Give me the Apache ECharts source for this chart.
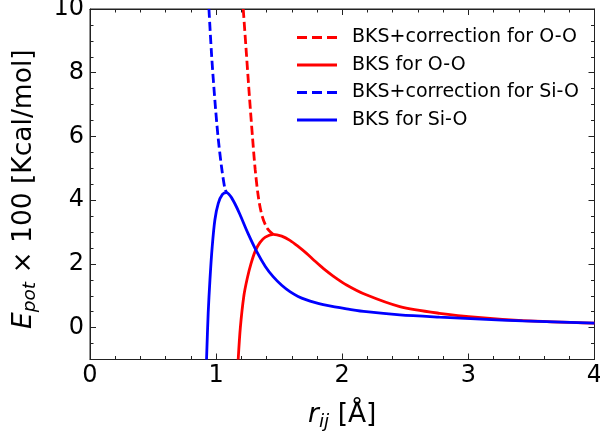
<!DOCTYPE html>
<html><head><meta charset="utf-8">
<script src="https://cdn.jsdelivr.net/npm/echarts@6/dist/echarts.min.js"></script>
<style>html,body{margin:0;padding:0;background:#fff;overflow:hidden}#c{width:600px;height:435px}</style>
</head><body><div id="c"></div>
<script>
const seriesNames = ['BKS+correction for O-O', 'BKS for O-O', 'BKS+correction for Si-O', 'BKS for Si-O'];
const seriesColors = ['#ff0000', '#ff0000', '#0000ff', '#0000ff'];
const rOOcorr = [1.215, 1.24, 1.265, 1.29, 1.31, 1.335, 1.365, 1.405, 1.452];
const eOOcorr = [10, 8.6, 7.2, 5.9, 4.95, 4.1, 3.5, 3.12, 2.93];
const rOO = [1.175, 1.192, 1.22, 1.247, 1.276, 1.31, 1.347, 1.39, 1.452, 1.52, 1.585, 1.65, 1.717, 1.78, 1.849, 1.928, 2.034, 2.19, 2.456, 2.77, 3.1, 3.43, 4.0];
const eOO = [-1, 0, 1, 1.55, 2.0, 2.4, 2.67, 2.84, 2.93, 2.87, 2.74, 2.55, 2.33, 2.1, 1.86, 1.62, 1.34, 1.03, 0.66, 0.45, 0.31, 0.22, 0.14];
const rSiOcorr = [0.943, 0.965, 0.99, 1.015, 1.043, 1.07, 1.083];
const eSiOcorr = [10, 8.5, 7.14, 6.0, 5.04, 4.35, 4.24];
const rSiO = [0.924, 0.937, 0.951, 0.969, 0.99, 1.017, 1.05, 1.083, 1.115, 1.15, 1.189, 1.25, 1.32, 1.39, 1.452, 1.52, 1.585, 1.65, 1.717, 1.78, 1.849, 1.94, 2.034, 2.19, 2.456, 2.77, 3.1, 3.43, 4.0];
const eSiO = [-1, 0.45, 1.5, 2.54, 3.38, 3.9, 4.18, 4.24, 4.12, 3.88, 3.55, 2.98, 2.4, 1.92, 1.6, 1.33, 1.13, 0.98, 0.87, 0.79, 0.72, 0.65, 0.59, 0.50, 0.40, 0.33, 0.27, 0.21, 0.14];
const yMajorTicks = [0, 2, 4, 6, 8, 10];

const zip = (xs, ys) => xs.map((x, i) => [x, ys[i]]);
const dataSets = [zip(rOOcorr, eOOcorr), zip(rOO, eOO), zip(rSiOcorr, eSiOcorr), zip(rSiO, eSiO)];
const dashed = [true, false, true, false];
const ICON_DASH = 'path://M0,0h10v3h-10zM15,0h10v3h-10zM30,0h10v3h-10z';
const ICON_SOLID = 'path://M0,0h40v3h-40z';

const FONT = 'DejaVu Sans';
const frameColor = '#222';
const axisLineStyle = { color: frameColor, width: 1 };
const chart = echarts.init(document.getElementById('c'), null, { renderer: 'canvas' });

const yBase = { type: 'value', min: -1, max: 10, splitLine: { show: false }, gridIndex: 0 };
const richName = {
  i: { fontFamily: FONT, fontSize: 26.5, fontStyle: 'italic', color: '#000' },
  s: { fontFamily: FONT, fontSize: 18.5, fontStyle: 'italic', color: '#000', padding: [13, 0, 0, 0] },
  n: { fontFamily: FONT, fontSize: 26.5, color: '#000' }
};
const option = {
  animation: false,
  backgroundColor: '#fff',
  grid: [
    { show: true, left: 90, right: 5.5, top: 9, bottom: 75.5, containLabel: false, outerBoundsMode: 'none',
      borderColor: frameColor, borderWidth: 1, backgroundColor: 'transparent' },
    { show: false, left: 90, right: 5.5, top: 8, height: 1, containLabel: false, outerBoundsMode: 'none' }
  ],
  legend: {
    orient: 'vertical', left: 292, top: 23, itemWidth: 40, itemHeight: 3, itemGap: 8.5,
    textStyle: { fontFamily: FONT, fontSize: 19, color: '#000', padding: [0, 0, 0, 10] },
    data: seriesNames.map((n, i) => ({ name: n, icon: dashed[i] ? ICON_DASH : ICON_SOLID, itemStyle: { color: seriesColors[i] } }))
  },
  xAxis: [
    {
      gridIndex: 0, type: 'value', position: 'bottom', min: 0, max: 4, interval: 1,
      axisLine: { show: true, onZero: false, lineStyle: axisLineStyle },
      axisTick: { show: true, inside: true, length: 6, lineStyle: axisLineStyle },
      minorTick: { show: true, splitNumber: 5, length: 3.5, lineStyle: axisLineStyle },
      axisLabel: { fontFamily: FONT, fontSize: 24, color: '#000', margin: 4 },
      splitLine: { show: false },
      name: '{i|r}{s|ij}{n| [Å]}', nameLocation: 'middle', nameGap: 40,
      nameTextStyle: { fontFamily: FONT, color: '#000', rich: richName }
    },
    {
      gridIndex: 1, type: 'value', position: 'bottom', min: 0, max: 4, interval: 1,
      axisLine: { show: true, onZero: false, lineStyle: axisLineStyle },
      axisTick: { show: true, inside: false, length: 6, lineStyle: axisLineStyle },
      minorTick: { show: true, splitNumber: 5, length: 3.5, lineStyle: axisLineStyle },
      axisLabel: { show: false }, splitLine: { show: false }
    }
  ],
  yAxis: [
    Object.assign({}, yBase, {
      position: 'left',
      axisLine: { show: true, onZero: false, lineStyle: axisLineStyle },
      axisTick: { show: true, inside: true, length: 6, lineStyle: axisLineStyle, customValues: yMajorTicks },
      axisLabel: { fontFamily: FONT, fontSize: 24, color: '#000', margin: 6, customValues: yMajorTicks },
      name: '{i|E}{s|pot}{n| × 100 [Kcal/mol]}', nameLocation: 'middle', nameGap: 50,
      nameTextStyle: { fontFamily: FONT, color: '#000', padding: [0, 10, 0, 0], rich: richName }
    }),
    Object.assign({}, yBase, {
      position: 'left', interval: 0.5,
      axisLine: { show: false, onZero: false },
      axisTick: { show: true, inside: true, length: 3.5, lineStyle: axisLineStyle },
      axisLabel: { show: false }
    }),
    Object.assign({}, yBase, {
      position: 'right',
      axisLine: { show: true, onZero: false, lineStyle: axisLineStyle },
      axisTick: { show: true, inside: true, length: 6, lineStyle: axisLineStyle, customValues: yMajorTicks },
      axisLabel: { show: false, customValues: yMajorTicks }
    }),
    Object.assign({}, yBase, {
      position: 'right', interval: 0.5,
      axisLine: { show: false, onZero: false },
      axisTick: { show: true, inside: true, length: 3.5, lineStyle: axisLineStyle },
      axisLabel: { show: false }
    }),
    { gridIndex: 1, type: 'value', min: 0, max: 1, show: false }
  ],
  series: seriesNames.map((name, i) => ({
    name: name, type: 'line', xAxisIndex: 0, yAxisIndex: 0,
    data: dataSets[i], showSymbol: false, symbol: 'none',
    smooth: 0.3,
    lineStyle: { color: seriesColors[i], width: 2.8, type: dashed[i] ? [9, 4] : 'solid' },
    itemStyle: { color: seriesColors[i] },
    clip: true, z: 2 + i
  }))
};
chart.setOption(option);
</script>
</body></html>
